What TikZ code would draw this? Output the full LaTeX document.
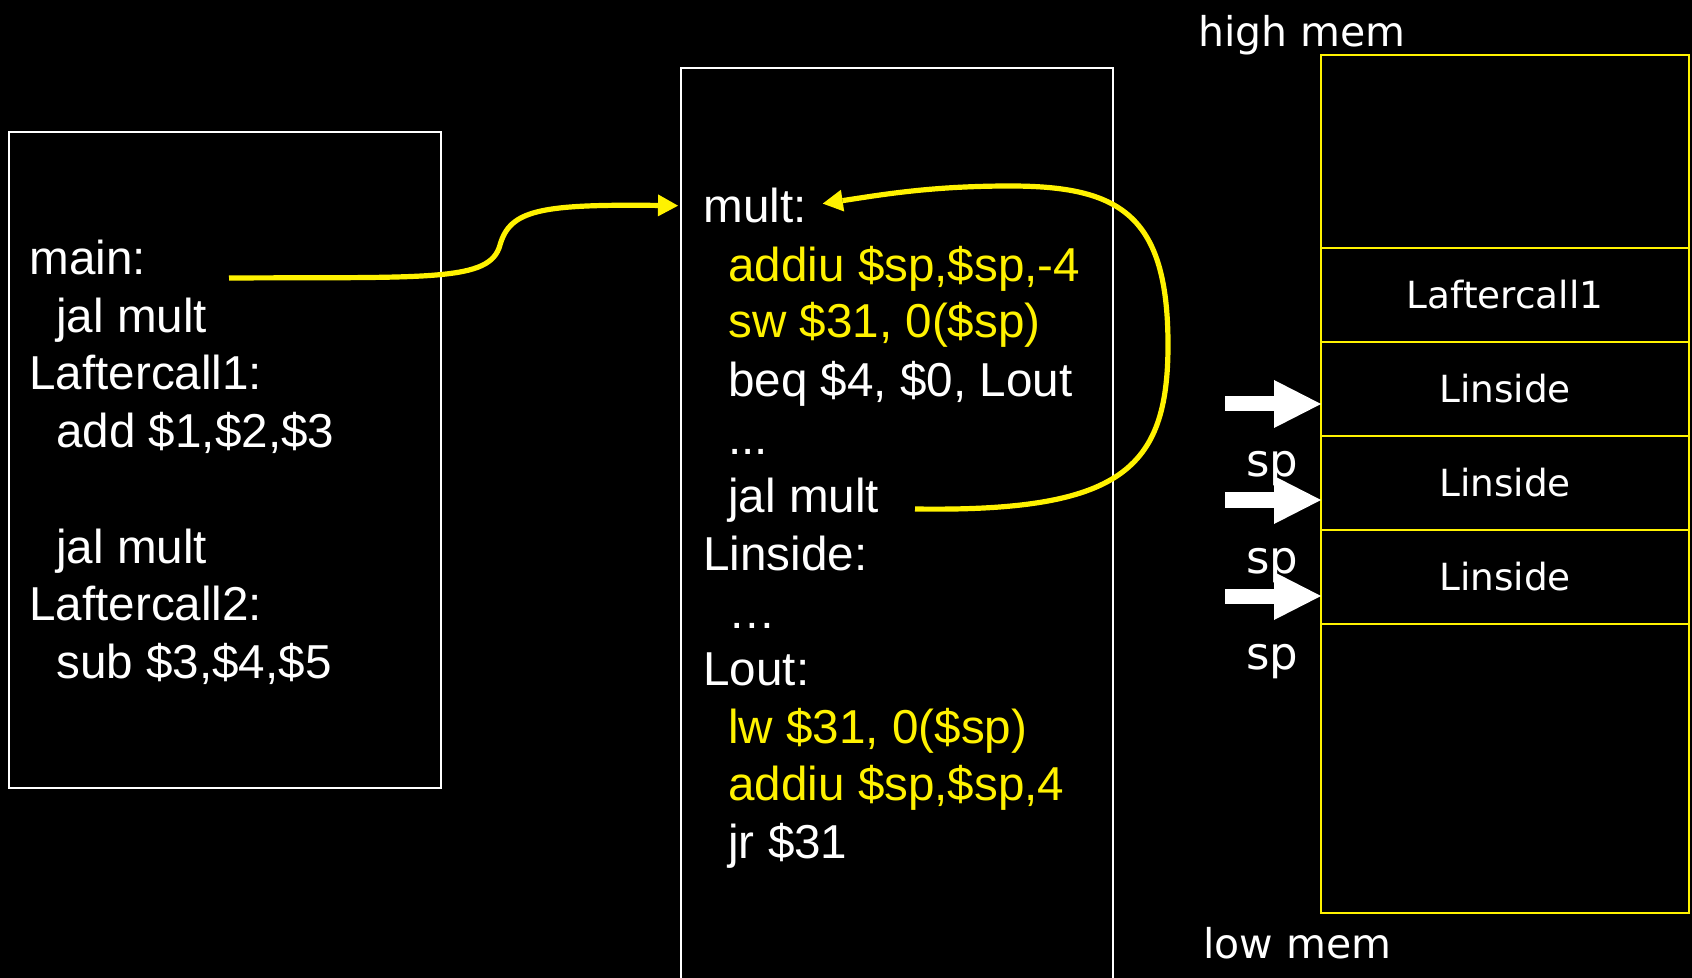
\documentclass[tikz,border=0pt]{standalone}
\usepackage{fontspec}
\setmainfont{Liberation Sans}
\newfontfamily\stackfont{DejaVu Sans}
\usetikzlibrary{positioning,arrows.meta}

\tikzset{
    code/.style={anchor=base west, inner sep=0pt, text=white, font=\fontsize{23.8}{28}\selectfont},
    hot/.style={code, text=yellow},
    box/.style={draw=white, line width=1pt},
    cell/.style={draw=yellow, line width=1pt, outer sep=0pt, minimum width=184pt, text=white, font=\stackfont\fontsize{18.7}{22}\selectfont},
    memlabel/.style={text=white, inner sep=0pt, font=\stackfont\fontsize{20.5}{24}\selectfont},
    call/.style={draw=yellow, line width=2.6pt, -{Triangle[length=10pt,width=11pt,line width=0pt]}},
    sparrow/.style={draw=white, line width=7.5pt, -{Triangle[length=23.5pt,width=24pt,line width=0pt]}}
}

\begin{document}
    \begin{tikzpicture}[x=0.5pt, y=-0.5pt]
        \useasboundingbox (0,0) rectangle (1692,978);
        \fill[black] (0,0) rectangle (1692,978);
        % caller
        \draw[box] (9,132) rectangle (441,788);
        \node[code] (main) at (29,275) {main:};
        \node[code] (jalA) at (56,333) {jal mult};
        \node[code] (afterA) at (29,390) {Laftercall1:};
        \node[code] (add) at (56,448) {add \$1,\$2,\$3};
        \node[code] (jalB) at (56,563) {jal mult};
        \node[code] (afterB) at (29,620) {Laftercall2:};
        \node[code] (sub) at (56,678) {sub \$3,\$4,\$5};
        % callee
        \draw[box] (681,978) |- (1113,68) -- (1113,978);
        \node[code] (mult) at (703,223) {mult:};
        \node[hot] (addiuA) at (728,282) {addiu \$sp,\$sp,-4};
        \node[hot] (sw) at (728,338) {sw \$31, 0(\$sp)};
        \node[code] (beq) at (728,397) {beq \$4, \$0, Lout};
        \node[code] (dotsA) at (728,455) {...};
        \node[code] (jalM) at (728,512) {jal mult};
        \node[code] (inside) at (703,570) {Linside:};
        \node[code] (dotsB) at (728,628) {…};
        \node[code] (lout) at (703,685) {Lout:};
        \node[hot] (lw) at (728,743) {lw \$31, 0(\$sp)};
        \node[hot] (addiuB) at (728,800) {addiu \$sp,\$sp,4};
        \node[code] (jr) at (728,858) {jr \$31};
        % calls
        \coordinate (callA) at (229,278);
        \coordinate (callM) at (915,509);
        \draw[call, shorten >=12.5pt] (callA) .. controls (430,277) and (490,282) .. (500,245)
            .. controls (510,210) and (540,204) .. (mult.west);
        \draw[call, shorten >=8pt] (callM) .. controls (1120,512) and (1168,470) .. (1168,345)
            .. controls (1168,215) and (1120,186) .. (1010,186)
            .. controls (930,186) and (880,195) .. (mult.east);
        % stack
        \node[memlabel, anchor=base west] (high) at (1198,47) {high mem};
        \node[cell, minimum height=96.5pt, anchor=north] (top) at (1505,55) {};
        \node[cell, minimum height=47pt, below=0pt of top] (ret) {Laftercall1};
        \node[cell, minimum height=47pt, below=0pt of ret] (insA) {Linside};
        \node[cell, minimum height=47pt, below=0pt of insA] (insB) {Linside};
        \node[cell, minimum height=47pt, below=0pt of insB] (insC) {Linside};
        \node[cell, minimum height=144.5pt, below=0pt of insC] (bottom) {};
        \node[memlabel, anchor=base west] (low) at (1203,958) {low mem};
        % stack pointer
        \coordinate (arrA) at (1225,404);
        \coordinate (arrB) at (1225,500);
        \coordinate (arrC) at (1225,596);
        \draw[sparrow] (arrA) -- (arrA -| top.west);
        \draw[sparrow] (arrB) -- (arrB -| top.west);
        \draw[sparrow] (arrC) -- (arrC -| top.west);
        \node[memlabel, anchor=base, font=\stackfont\fontsize{22.5}{26}\selectfont] (spA) at (1272,477) {sp};
        \node[memlabel, anchor=base, font=\stackfont\fontsize{22.5}{26}\selectfont] (spB) at (1272,573) {sp};
        \node[memlabel, anchor=base, font=\stackfont\fontsize{22.5}{26}\selectfont] (spC) at (1272,669) {sp};
    \end{tikzpicture}
\end{document}
